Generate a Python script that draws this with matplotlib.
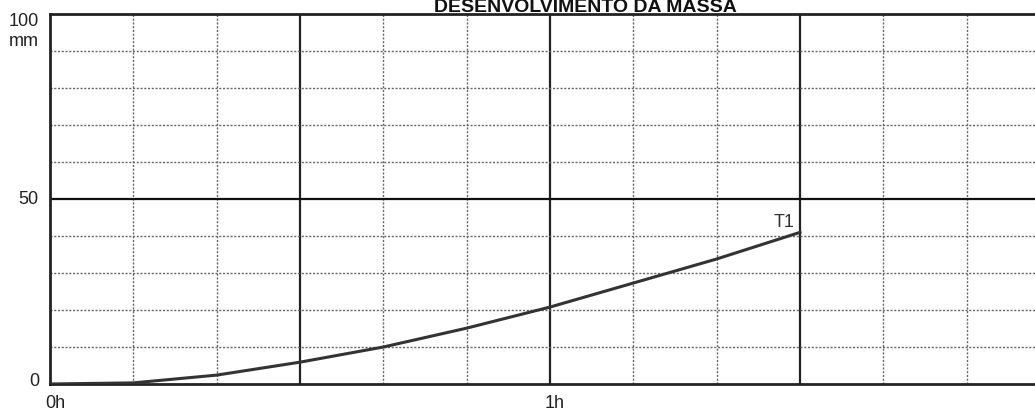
import matplotlib.pyplot as plt
from matplotlib.transforms import ScaledTranslation

plt.rcParams['font.family'] = ['Liberation Sans', 'DejaVu Sans']

# time in minutes, height in mm
minutes = [0, 10, 20, 30, 40, 50, 60, 70, 80, 90]
height_mm = [0, 0.3, 2.4, 5.9, 10.0, 15.1, 20.8, 27.3, 33.8, 41.0]
curve_label = "T1"
x_ticks = [0, 60]
x_tick_labels = ["0h", "1h"]
y_ticks = [0, 50, 100]
y_tick_labels = ["0", "50", "100\nmm"]
title = "DESENVOLVIMENTO DA MASSA"

fig = plt.figure(figsize=(10.35, 4.1), dpi=100)
ax = fig.add_axes([0.0483, 0.061, 0.9517, 0.902])
ax.set_xlim(0, 118.2)
ax.set_ylim(0, 100)

def px(dx, dy):
    return ScaledTranslation(dx / 100, dy / 100, fig.dpi_scale_trans)

# grid: dashed minor every 10, solid major every 30 min / 50 mm
for m in range(10, 120, 10):
    if m % 30 == 0:
        ax.axvline(m, color='#222222', lw=1.6, zorder=1)
    else:
        ax.axvline(m, color='#666666', lw=1.0, ls=(0, (1.5, 1.2)), zorder=1)
for v in range(10, 100, 10):
    if v == 50:
        ax.axhline(v, color='#111111', lw=1.6, zorder=1)
    else:
        ax.axhline(v, color='#666666', lw=1.0, ls=(0, (1.5, 1.2)), zorder=1)

ax.plot(minutes, height_mm, color='#333333', lw=2.2, zorder=3)
ax.annotate(curve_label, (minutes[-1], height_mm[-1]), xytext=(-3.6, 4.3),
            textcoords='offset points', ha='right', va='baseline',
            fontsize=13, color='#333333')

for side in ['left', 'top', 'bottom']:
    ax.spines[side].set_linewidth(2)
    ax.spines[side].set_color('#222222')
ax.spines['right'].set_visible(False)

ax.set_xticks(x_ticks)
ax.set_xticklabels(x_tick_labels, fontsize=13, color='#222222')
ax.set_yticks(y_ticks)
ax.set_yticklabels(y_tick_labels, fontsize=13, color='#222222')
ax.tick_params(length=0, pad=7)
ax.tick_params(axis='y', pad=8)
for lbl in ax.get_xticklabels():
    lbl.set_horizontalalignment('left')
    lbl.set_transform(lbl.get_transform() + px(-5, 0))
ylbls = ax.get_yticklabels()
ylbls[0].set_transform(ylbls[0].get_transform() + px(0, 5))
ylbls[1].set_transform(ylbls[1].get_transform() + px(0, 3))
# the "100 mm" label hangs down from the top of the frame
ylbls[2].set_verticalalignment('top')
ylbls[2].set_multialignment('right')
ylbls[2].set_transform(ylbls[2].get_transform() + px(0, 2))

fig.text(0.5657, 1 - 12.5 / 410, title, ha='center', va='baseline',
         fontsize=14, fontweight='bold', color='#111111')

fig.savefig('out.png', dpi=100)
